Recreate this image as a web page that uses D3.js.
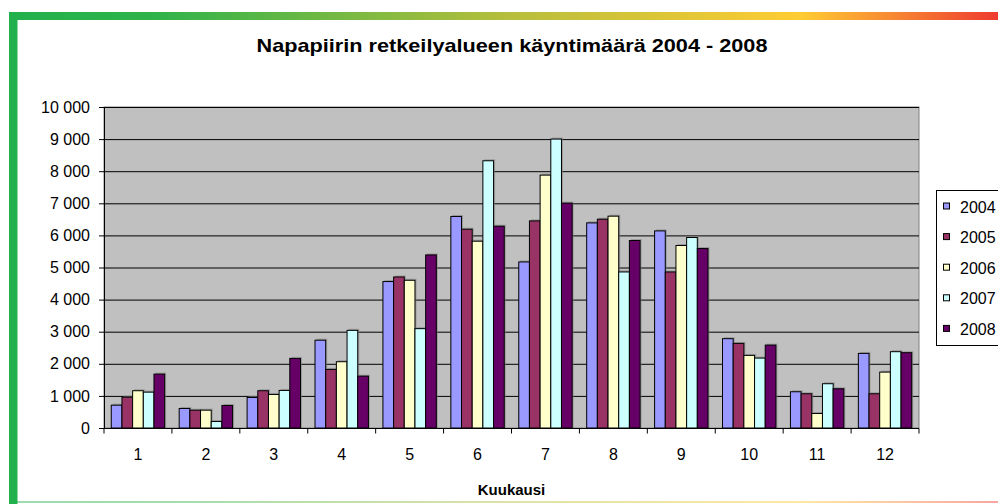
<!DOCTYPE html>
<html>
<head>
<meta charset="utf-8">
<script src="https://cdn.jsdelivr.net/npm/d3@7"></script>
<style>
  body { margin: 0; background: #fff; }
  svg text { font-family: "Liberation Sans", Arial, sans-serif; fill: #000; }
</style>
</head>
<body>
<svg id="chart" width="998" height="504"></svg>
<script>
const months = ["1","2","3","4","5","6","7","8","9","10","11","12"];
const years = ["2004","2005","2006","2007","2008"];
const yTicks = [0,1000,2000,3000,4000,5000,6000,7000,8000,9000,10000];

// käyntimäärä per kuukausi
const v2004 = [711, 608, 951, 2735, 4562, 6590, 5173, 6390, 6140, 2783, 1129, 2324];
const v2005 = [961, 555, 1161, 1825, 4705, 6193, 6452, 6505, 4861, 2636, 1067, 1067];
const v2006 = [1161, 555, 1045, 2065, 4602, 5819, 7878, 6599, 5685, 2262, 452, 1741];
const v2007 = [1117, 203, 1170, 3042, 3095, 8325, 9001, 4861, 5934, 2178, 1379, 2377];
const v2008 = [1679, 702, 2168, 1616, 5392, 6287, 7005, 5841, 5591, 2583, 1223, 2346];
const colors = ["#9999ff", "#993366", "#ffffcc", "#ccffff", "#660066"];

const series = [v2004, v2005, v2006, v2007, v2008];
const data = months.map((m, i) => ({
  month: m,
  values: years.map((y, j) => ({ year: y, value: series[j][i] }))
}));

let width = 998;
let height = 504;
let margin = { top: 107, right: 79, bottom: 76, left: 104 };
let svg = d3.select("#chart");

// kehys: liukuväri ylhäällä, vihreä vasemmalla
let defs = svg.append("defs");
let grad = defs.append("linearGradient").attr("id", "topgrad");
grad.append("stop").attr("offset", "0%").attr("stop-color", "#22b14c");
grad.append("stop").attr("offset", "15%").attr("stop-color", "#2fb34a");
grad.append("stop").attr("offset", "50%").attr("stop-color", "#b5be3c");
grad.append("stop").attr("offset", "80%").attr("stop-color", "#ffcc33");
grad.append("stop").attr("offset", "100%").attr("stop-color", "#ee3a2f");

svg.append("rect").attr("x", 9).attr("y", 12).attr("width", width - 9).attr("height", 8)
  .style("fill", "url(#topgrad)");
svg.append("rect").attr("x", 9).attr("y", 12).attr("width", 8.5).attr("height", height - 12)
  .style("fill", "#22b14c");
svg.append("rect").attr("x", 17).attr("y", 501).attr("width", width - 17).attr("height", 2)
  .style("fill", "url(#topgrad)").style("opacity", 0.45);

let x0 = d3.scaleBand()
  .domain(months)
  .range([margin.left, width - margin.right])
  .paddingInner(0).paddingOuter(0);

let x1 = d3.scaleBand()
  .domain(years)
  .range([0, x0.bandwidth()])
  .paddingInner(0).paddingOuter(0.68);

let y = d3.scaleLinear()
  .domain([0, 10000])
  .range([height - margin.bottom, margin.top]);

// piirtoalue
svg.append("rect")
  .attr("x", margin.left).attr("y", margin.top)
  .attr("width", width - margin.right - margin.left)
  .attr("height", height - margin.bottom - margin.top)
  .style("fill", "#c0c0c0")
  .style("stroke", "#808080").style("stroke-width", 1);

let fmt = d => d3.format(",")(d).replace(/,/g, " ");

let yAxis = svg.append("g")
  .attr("class", "y axis")
  .attr("transform", `translate(${margin.left},0)`)
  .call(d3.axisLeft(y).tickValues(yTicks).tickSize(5).tickPadding(9).tickFormat(fmt));
yAxis.select(".domain").remove();
yAxis.selectAll("text").style("font-size", "16px");

svg.append("g")
  .attr("class", "grid")
  .selectAll("line")
  .data(yTicks.slice(1))
  .join("line")
  .attr("x1", margin.left).attr("x2", width - margin.right)
  .attr("y1", d => y(d) + 0.5).attr("y2", d => y(d) + 0.5)
  .style("stroke", "#000").style("stroke-width", 1);

let groups = svg.append("g")
  .selectAll("g")
  .data(data)
  .join("g")
  .attr("transform", d => `translate(${x0(d.month)},0)`);

// varjo
groups.selectAll("rect.shadow")
  .data(d => d.values)
  .join("rect")
  .attr("class", "shadow")
  .attr("x", d => x1(d.year) + 1.5)
  .attr("y", d => y(d.value) - 1.5)
  .attr("width", x1.bandwidth())
  .attr("height", d => y(0) - y(d.value) + 1.5)
  .style("fill", "#808080").style("opacity", 0.6);

groups.selectAll("rect.bar")
  .data(d => d.values)
  .join("rect")
  .attr("class", "bar")
  .attr("x", d => x1(d.year))
  .attr("y", d => y(d.value))
  .attr("width", x1.bandwidth())
  .attr("height", d => y(0) - y(d.value))
  .style("fill", (d, i) => colors[i])
  .style("stroke", "#000").style("stroke-width", 1);

// y-akselin viiva ja x-akseli
svg.append("line")
  .attr("x1", margin.left + 0.5).attr("x2", margin.left + 0.5)
  .attr("y1", margin.top).attr("y2", y(0))
  .style("stroke", "#000");

let xAxis = svg.append("g")
  .attr("class", "x axis")
  .attr("transform", `translate(0,${y(0) + 0.5})`)
  .call(d3.axisBottom(x0).tickSize(0).tickPadding(20));
xAxis.select(".domain").attr("d", `M${margin.left},0H${width - margin.right}`).style("stroke", "#000");
xAxis.selectAll("text").style("font-size", "16px");

xAxis.selectAll("line.sep")
  .data(months.concat(["end"]))
  .join("line")
  .attr("class", "sep")
  .attr("x1", (d, i) => i < months.length ? x0(d) : width - margin.right)
  .attr("x2", (d, i) => i < months.length ? x0(d) : width - margin.right)
  .attr("y1", 0).attr("y2", 5)
  .style("stroke", "#000");

svg.append("text")
  .attr("x", 512).attr("y", 52)
  .attr("text-anchor", "middle")
  .attr("textLength", 511).attr("lengthAdjust", "spacingAndGlyphs")
  .style("font-size", "19px").style("font-weight", "bold")
  .text("Napapiirin retkeilyalueen käyntimäärä 2004 - 2008");

svg.append("text")
  .attr("x", (margin.left + width - margin.right) / 2).attr("y", 495)
  .attr("text-anchor", "middle")
  .style("font-size", "15px").style("font-weight", "bold")
  .text("Kuukausi");

// selite
let legend = svg.append("g").attr("transform", "translate(936,190)");
legend.append("rect")
  .attr("x", 0.5).attr("y", 0.5).attr("width", 100).attr("height", 155)
  .style("fill", "#fff").style("stroke", "#000");

let items = legend.selectAll("g.item")
  .data(years)
  .join("g")
  .attr("class", "item")
  .attr("transform", (d, i) => `translate(0,${16.5 + i * 30.6})`);
items.append("rect")
  .attr("x", 7.5).attr("y", -3.5).attr("width", 6).attr("height", 6)
  .style("fill", (d, i) => colors[i]).style("stroke", "#000");
items.append("text")
  .attr("x", 24).attr("y", 6)
  .style("font-size", "16px")
  .text(d => d);
</script>
</body>
</html>
